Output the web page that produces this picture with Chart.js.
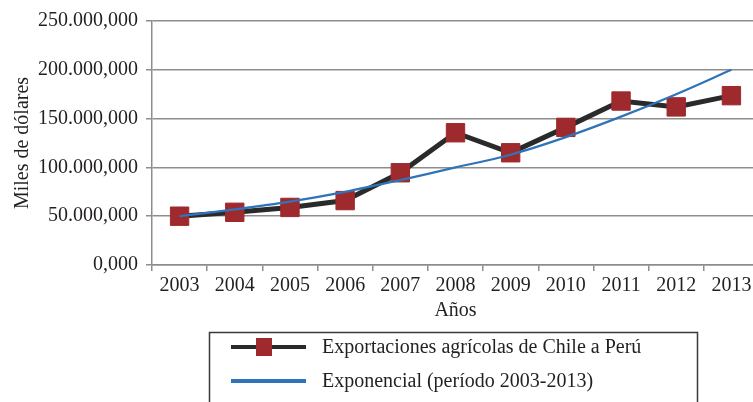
<!DOCTYPE html>
<html>
<head>
<meta charset="utf-8">
<script src="https://cdn.jsdelivr.net/npm/chart.js@4/dist/chart.umd.min.js"></script>
<style>
  html, body { margin: 0; padding: 0; background: #fff; overflow: hidden; }
  #wrap { position: relative; width: 773px; height: 402px; }
</style>
</head>
<body>
<div id="wrap"><canvas id="chart"></canvas></div>
<script>
// datos (miles de dólares)
const years = ['2003', '2004', '2005', '2006', '2007', '2008', '2009', '2010', '2011', '2012', '2013'];
const exportaciones = [50000, 54000, 59000, 66000, 94500, 135500, 115000, 141000, 168000, 162000, 173500];
const exponencial = [50000, 57000, 65000, 75000, 87000, 100000, 113000, 131000, 152000, 175000, 200000];
const yTicks = [0, 50000, 100000, 150000, 200000, 250000];

const serif = '"Liberation Serif", "Times New Roman", serif';
const textColor = '#231f20';
const gridColor = '#8d8d8d';

// 250000 -> "250.000,000"
function formatMiles(v) {
    const ent = String(Math.round(v)).replace(/\B(?=(\d{3})+(?!\d))/g, '.');
    return ent + ',000';
}

// leyenda con marco, como en el original
const boxLegend = {
    id: 'boxLegend',
    afterDraw(chart) {
        const ctx = chart.ctx;
        ctx.save();
        ctx.strokeStyle = '#3a3a3a';
        ctx.lineWidth = 1.5;
        ctx.strokeRect(209.5, 332.5, 488, 100);
        ctx.font = '20px ' + serif;
        ctx.textBaseline = 'middle';
        ctx.fillStyle = textColor;
        chart.data.datasets.forEach((ds, i) => {
            const y = 347 + i * 34;
            ctx.strokeStyle = ds.borderColor;
            ctx.lineWidth = 4;
            ctx.beginPath();
            ctx.moveTo(231, y);
            ctx.lineTo(306, y);
            ctx.stroke();
            if (ds.pointRadius > 0) {
                ctx.fillStyle = ds.pointBackgroundColor;
                ctx.fillRect(264 - 8, y - 9, 16, 18);
            }
            ctx.fillStyle = textColor;
            ctx.fillText(ds.label, 322, y + 1);
        });
        ctx.restore();
    }
};

const chart = new Chart(document.getElementById('chart'), {
    type: 'line',
    data: {
        labels: years,
        datasets: [
            {
                label: 'Exportaciones agrícolas de Chile a Perú',
                data: exportaciones,
                borderColor: '#2a2a2a',
                borderWidth: 5,
                pointStyle: 'rect',
                pointRadius: 13,
                pointHoverRadius: 13,
                pointBackgroundColor: '#9e2a2d',
                pointBorderColor: '#9e2a2d',
                pointBorderWidth: 1,
                tension: 0,
                order: 1
            },
            {
                label: 'Exponencial (período 2003-2013)',
                data: exponencial,
                borderColor: '#2f74b8',
                borderWidth: 2.2,
                pointRadius: 0,
                tension: 0.35,
                order: 0
            }
        ]
    },
    options: {
        responsive: true,
        maintainAspectRatio: false,
        animation: false,
        layout: { padding: { top: 21, right: 2, bottom: 70, left: 0 } },
        plugins: {
            legend: { display: false },
            tooltip: { enabled: false }
        },
        scales: {
            x: {
                offset: true,
                grid: { offset: true, drawOnChartArea: false, drawTicks: true, tickLength: 6, color: gridColor, lineWidth: 1.5 },
                border: { display: true, color: gridColor, width: 1.5 },
                ticks: { color: textColor, font: { family: serif, size: 20 }, padding: 3, maxRotation: 0 },
                title: { display: true, text: 'Años', color: textColor, font: { family: serif, size: 20 }, padding: { top: 0, bottom: 9 } },
                afterFit: (s) => { s.height = 67; }
            },
            y: {
                min: 0,
                max: 250000,
                afterBuildTicks: (s) => { s.ticks = yTicks.map(v => ({ value: v })); },
                grid: { drawTicks: true, tickLength: 6, color: gridColor, lineWidth: 1.5 },
                border: { display: true, color: gridColor, width: 1.5 },
                ticks: { color: textColor, font: { family: serif, size: 20 }, padding: 8, callback: (v) => formatMiles(v) },
                title: { display: true, text: 'Miles de dólares', color: textColor, font: { family: serif, size: 20 }, padding: { top: 11, bottom: 0 } },
                afterFit: (s) => { s.width = 152; }
            }
        }
    },
    plugins: [boxLegend]
});
</script>
</body>
</html>
